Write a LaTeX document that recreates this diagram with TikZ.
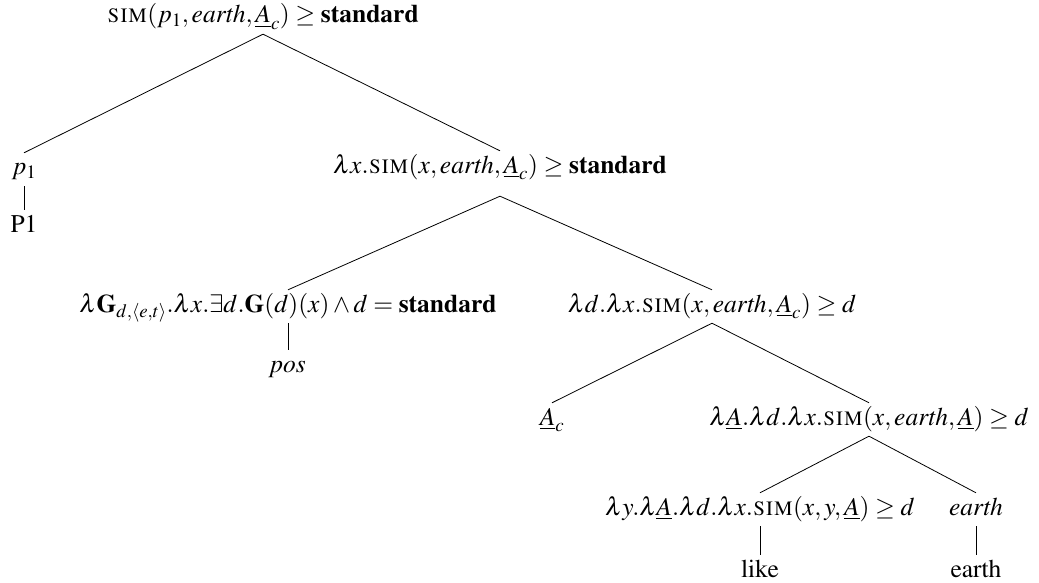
\documentclass[tikz,border=0pt]{standalone}
\usepackage[T1]{fontenc}
\usepackage{mathptmx}
\newcommand{\simfn}{\textsc{sim}}
\newcommand{\uA}{\underline{A}}
\begin{document}
\begin{tikzpicture}[x=1pt,y=-1pt,
  every node/.style={inner xsep=2pt, inner ysep=5pt, text height=17pt, text depth=6pt, anchor=base, font=\fontsize{25.5}{30}\selectfont},
  edge/.style={line width=0.8pt}]
\useasboundingbox (0,0) rectangle (1039,583);
\node[inner ysep=3pt, text height=16pt, text depth=8pt] (root) at (263,23) {$\simfn(p_1,\mathit{earth},\uA_c)\geq\textbf{standard}$};
\node (p1) at (24,175) {$p_1$};
\node (P1) at (24,232) {P1};
\node[text depth=18pt] (lx) at (500,173) {$\lambda x.\simfn(x,\mathit{earth},\uA_c)\geq\textbf{standard}$};
\node (lG) at (288,312) {$\lambda\mathbf{G}_{d,\langle e,t\rangle}.\lambda x.\exists d.\mathbf{G}(d)(x)\wedge d=\textbf{standard}$};
\node (pos) at (288,372) {$\mathit{pos}$};
\node (ld) at (712,312) {$\lambda d.\lambda x.\simfn(x,\mathit{earth},\uA_c)\geq d$};
\node (Ac) at (552,425) {$\uA_c$};
\node (lA) at (869,425) {$\lambda\uA.\lambda d.\lambda x.\simfn(x,\mathit{earth},\uA)\geq d$};
\node (ly) at (760,515) {$\lambda y.\lambda\uA.\lambda d.\lambda x.\simfn(x,y,\uA)\geq d$};
\node (ea) at (976,515) {$\mathit{earth}$};
\node (like) at (760,577) {like};
\node (eaw) at (976,577) {earth};
\draw[edge] (root.south) -- (p1.north);
\draw[edge] (root.south) -- (lx.north);
\draw[edge] (p1.south) -- (P1.north);
\draw[edge] (lx.south) -- (lG.north);
\draw[edge] (lx.south) -- (ld.north);
\draw[edge] (lG.south) -- (pos.north);
\draw[edge] (ld.south) -- (Ac.north);
\draw[edge] (ld.south) -- (lA.north);
\draw[edge] (lA.south) -- (ly.north);
\draw[edge] (lA.south) -- (ea.north);
\draw[edge] (ly.south) -- (like.north);
\draw[edge] (ea.south) -- (eaw.north);
\end{tikzpicture}
\end{document}
